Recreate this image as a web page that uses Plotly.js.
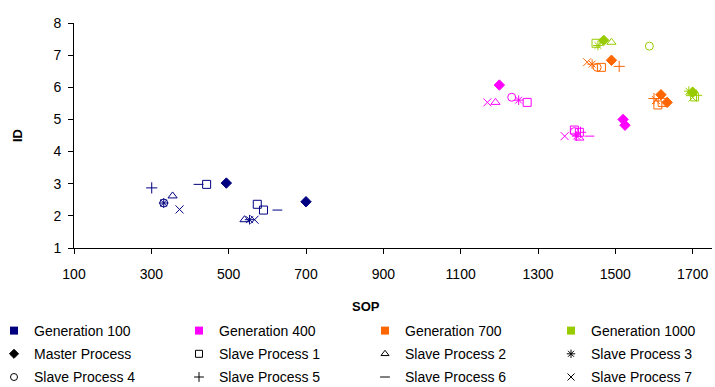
<!DOCTYPE html>
<html>
<head>
<meta charset="utf-8">
<script src="https://cdn.plot.ly/plotly-3.0.1.min.js"></script>
<style>html,body{margin:0;padding:0;background:#fff;}#chart{width:715px;height:387px;}</style>
</head>
<body>
<div id="chart"></div>
<script>
// Generations and colours
const generations = ["Generation 100", "Generation 400", "Generation 700", "Generation 1000"];
const genColors = ["#000080", "#FF00FF", "#FF6600", "#99CC00"];

// Process types
const processes = ["Master Process", "Slave Process 1", "Slave Process 2", "Slave Process 3",
                   "Slave Process 4", "Slave Process 5", "Slave Process 6", "Slave Process 7"];
const procSymbols = ["diamond", "square-open", "triangle-up-open", "asterisk-open",
                     "circle-open", "cross-thin-open", "line-ew-open", "x-thin-open"];

// Data per generation: SOP (x), ID (y), process index
const gen100X = [494, 700, 443, 574, 590, 355, 541, 332, 554, 332, 301, 422, 626, 373, 567];
const gen100Y = [3.02, 2.44, 2.98, 2.36, 2.18, 2.62, 1.88, 2.40, 1.88, 2.40, 2.87, 2.98, 2.18, 2.20, 1.88];
const gen100P = [0, 0, 1, 1, 1, 2, 2, 3, 3, 4, 5, 6, 6, 7, 7];

const gen400X = [1200, 1520, 1525, 1272, 1394, 1407, 1190, 1407, 1250, 1400, 1232, 1394, 1410, 1433, 1169, 1369];
const gen400Y = [6.07, 5.00, 4.82, 5.53, 4.67, 4.60, 5.53, 4.42, 5.60, 4.48, 5.69, 4.62, 4.60, 4.48, 5.53, 4.48];
const gen400P = [0, 0, 0, 1, 1, 1, 2, 2, 3, 3, 4, 4, 5, 6, 7, 7];

const gen700X = [1490, 1618, 1634, 1464, 1621, 1610, 1440, 1453, 1510, 1600, 1427, 1605];
const gen700Y = [6.84, 5.77, 5.53, 6.62, 5.53, 5.45, 6.72, 6.62, 6.65, 5.65, 6.78, 5.60];
const gen700P = [0, 0, 0, 1, 1, 1, 3, 4, 5, 5, 7, 7];

const gen1000X = [1470, 1700, 1450, 1705, 1490, 1695, 1455, 1690, 1588, 1710, 1700];
const gen1000Y = [7.46, 5.85, 7.37, 5.70, 7.40, 5.80, 7.30, 5.88, 7.28, 5.75, 5.68];
const gen1000P = [0, 0, 1, 1, 2, 2, 3, 3, 4, 5, 7];

const xTicks = [100, 300, 500, 700, 900, 1100, 1300, 1500, 1700];
const yTicks = [1, 2, 3, 4, 5, 6, 7, 8];

const genData = [[gen100X, gen100Y, gen100P], [gen400X, gen400Y, gen400P],
                 [gen700X, gen700Y, gen700P], [gen1000X, gen1000Y, gen1000P]];

const traces = [];
genData.forEach(function (d, g) {
  traces.push({
    type: "scatter", mode: "markers", x: d[0], y: d[1], showlegend: false,
    hoverinfo: "x+y", opacity: 1,
    marker: {
      symbol: d[2].map(function (p) { return procSymbols[p]; }),
      size: d[2].map(function (p) { return p === 6 ? 7 : 8; }),
      color: genColors[g], opacity: 1,
      line: { color: genColors[g], width: 1 }
    }
  });
});

// Legend: four columns; column c holds generation c and two process entries
const legendIds = ["legend", "legend2", "legend3", "legend4"];
generations.forEach(function (name, g) {
  traces.push({ type: "scatter", mode: "markers", x: [null], y: [null], name: name,
    legend: legendIds[g], legendgroup: "g" + g,
    marker: { symbol: "square", size: 8, color: genColors[g], opacity: 1 } });
});
processes.forEach(function (name, p) {
  traces.push({ type: "scatter", mode: "markers", x: [null], y: [null], name: name,
    legend: legendIds[p % 4], legendgroup: "p" + p,
    marker: { symbol: procSymbols[p], size: 7, color: "#000000", opacity: 1,
              line: { color: "#000000", width: 1 } } });
});

const font = { family: "Liberation Sans, Arial, sans-serif", size: 13, color: "#000000" };
// legend column origins in pixels, converted to paper fractions (plot: left 74, width 638; bottom 248, height 225)
const legendPx = [-6, 179, 365, 551];
function legendSpec(i) {
  return {
    orientation: "v", xref: "paper", yref: "paper",
    x: (legendPx[i] - 74) / 638, xanchor: "left", y: (248 - 315) / 225, yanchor: "top",
    tracegroupgap: 2, bgcolor: "rgba(0,0,0,0)",
    font: { family: font.family, size: 14, color: "#000000" },
    itemclick: false, itemdoubleclick: false
  };
}

const layout = {
  width: 715, height: 387,
  margin: { l: 74, r: 3, t: 23, b: 139, autoexpand: false },
  paper_bgcolor: "#ffffff", plot_bgcolor: "#ffffff",
  font: font,
  xaxis: {
    range: [100, 1750], tickvals: xTicks, ticktext: xTicks.map(String),
    showgrid: false, zeroline: false, showline: true, linecolor: "#000000", linewidth: 1,
    ticks: "outside", ticklen: 5, tickcolor: "#000000", ticklabelstandoff: 8,
    tickfont: { family: font.family, size: 14, color: "#000000" },
    automargin: false
  },
  yaxis: {
    range: [1, 8], tickvals: yTicks, ticktext: yTicks.map(String),
    showgrid: false, zeroline: false, showline: true, linecolor: "#000000", linewidth: 1,
    ticks: "outside", ticklen: 5, tickcolor: "#000000", ticklabelstandoff: 4,
    tickfont: { family: font.family, size: 14, color: "#000000" },
    title: { text: "<b>ID</b>", font: { family: font.family, size: 13 }, standoff: 27 },
    automargin: false
  },
  annotations: [{
    text: "<b>SOP</b>", xref: "paper", yref: "paper",
    x: (366 - 74) / 638, y: (248 - 306) / 225, xanchor: "center", yanchor: "middle",
    showarrow: false, font: { family: font.family, size: 13, color: "#000000" }
  }],
  legend: legendSpec(0),
  legend2: legendSpec(1),
  legend3: legendSpec(2),
  legend4: legendSpec(3),
  showlegend: true
};

Plotly.newPlot("chart", traces, layout, { displayModeBar: false, staticPlot: true });
</script>
</body>
</html>
